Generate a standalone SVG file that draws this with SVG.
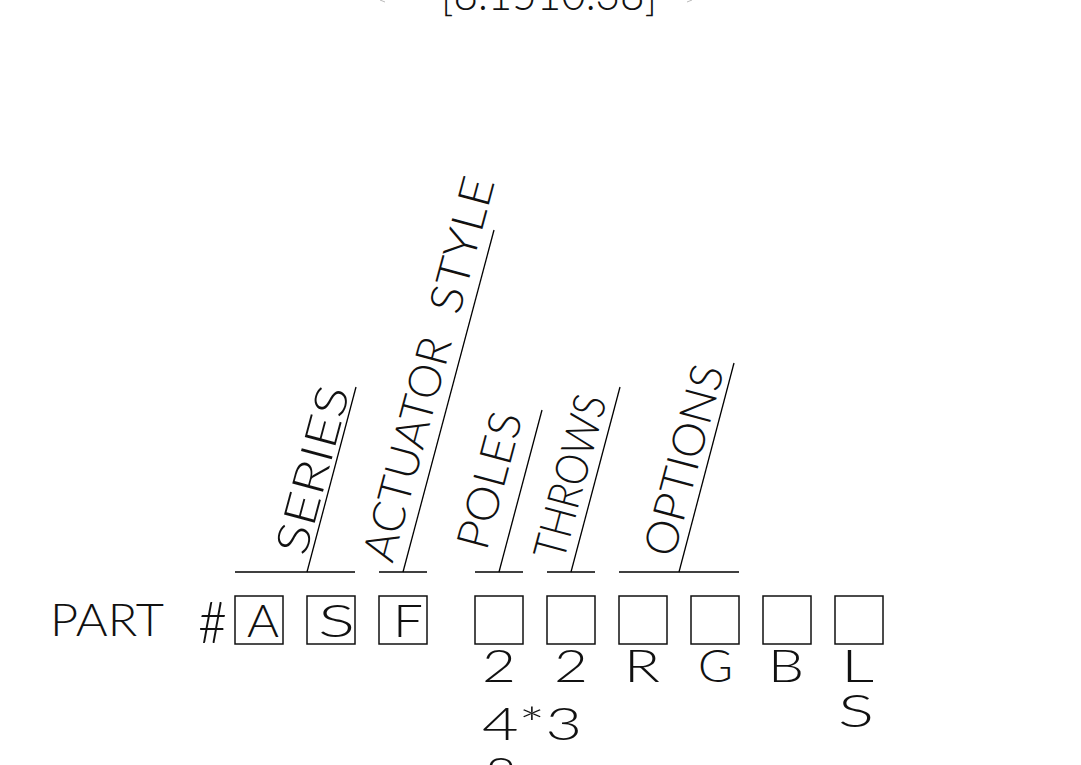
<svg xmlns="http://www.w3.org/2000/svg" width="1081" height="765" viewBox="0 0 1081 765">
<style>
  .t { font-family: "Lato", "Inter", "Liberation Sans", sans-serif; font-weight: 300; font-size: 45px; fill: #111; }
  .ln { stroke: #000; stroke-width: 1.3; fill: none; }
  .bx { stroke: #111; stroke-width: 1.5; fill: #fff; }
  .tick { stroke: #bbb; stroke-width: 1; }
</style>
<rect width="1081" height="765" fill="#fff"/>
<g id="dimension">
  <text class="t" x="441" y="10" textLength="216" lengthAdjust="spacingAndGlyphs">[8.1510.38]</text>
  <line class="tick" x1="380" y1="0" x2="385" y2="2"/>
  <line class="tick" x1="692" y1="0" x2="687" y2="2"/>
</g>
<g id="connectors">
  <line class="ln" x1="235" y1="572" x2="355" y2="572"/>
  <line class="ln" x1="379" y1="572" x2="427" y2="572"/>
  <line class="ln" x1="475" y1="572" x2="523" y2="572"/>
  <line class="ln" x1="547" y1="572" x2="595" y2="572"/>
  <line class="ln" x1="619" y1="572" x2="739" y2="572"/>
  <line class="ln" x1="307" y1="572" x2="356" y2="387"/>
  <line class="ln" x1="403" y1="572" x2="494" y2="230"/>
  <line class="ln" x1="499" y1="572" x2="542" y2="410"/>
  <line class="ln" x1="571" y1="572" x2="620" y2="387"/>
  <line class="ln" x1="679" y1="572" x2="734" y2="363"/>
</g>
<g id="label-series"><text class="t" transform="translate(305.5,557) rotate(-75)" textLength="172" lengthAdjust="spacingAndGlyphs">SERIES</text></g>
<g id="label-actuator">
  <text class="t" transform="translate(392.5,564) rotate(-75)" textLength="230" lengthAdjust="spacingAndGlyphs">ACTUATOR</text>
  <text class="t" transform="translate(459,316) rotate(-75)" textLength="139" lengthAdjust="spacingAndGlyphs">STYLE</text>
</g>
<g id="label-poles"><text class="t" transform="translate(486.5,552) rotate(-75)" textLength="140" lengthAdjust="spacingAndGlyphs">POLES</text></g>
<g id="label-throws"><text class="t" transform="translate(563.5,562) rotate(-75)" textLength="168" lengthAdjust="spacingAndGlyphs">THROWS</text></g>
<g id="label-options"><text class="t" transform="translate(673.5,559) rotate(-75)" textLength="196" lengthAdjust="spacingAndGlyphs">OPTIONS</text></g>
<g id="part-label">
  <text class="t" x="50" y="636" textLength="114" lengthAdjust="spacingAndGlyphs">PART</text>
  <text class="t" x="198" y="643" style="font-size:58px" textLength="29" lengthAdjust="spacingAndGlyphs">#</text>
</g>
<g id="box-1"><rect class="bx" x="235" y="596" width="48" height="48"/><text class="t" x="247" y="637" textLength="32" lengthAdjust="spacingAndGlyphs">A</text></g>
<g id="box-2"><rect class="bx" x="307" y="596" width="48" height="48"/><text class="t" x="318" y="637" textLength="37" lengthAdjust="spacingAndGlyphs">S</text></g>
<g id="box-3"><rect class="bx" x="379" y="596" width="48" height="48"/><text class="t" x="393" y="637" textLength="30" lengthAdjust="spacingAndGlyphs">F</text></g>
<g id="box-4"><rect class="bx" x="475" y="596" width="48" height="48"/></g>
<g id="box-5"><rect class="bx" x="547" y="596" width="48" height="48"/></g>
<g id="box-6"><rect class="bx" x="619" y="596" width="48" height="48"/></g>
<g id="box-7"><rect class="bx" x="691" y="596" width="48" height="48"/></g>
<g id="box-8"><rect class="bx" x="763" y="596" width="48" height="48"/></g>
<g id="box-9"><rect class="bx" x="835" y="596" width="48" height="48"/></g>
<g id="values">
  <text class="t" x="482" y="682" textLength="34" lengthAdjust="spacingAndGlyphs">2</text>
  <text class="t" x="554" y="682" textLength="34" lengthAdjust="spacingAndGlyphs">2</text>
  <text class="t" x="624" y="682" textLength="36" lengthAdjust="spacingAndGlyphs">R</text>
  <text class="t" x="698" y="682" textLength="35" lengthAdjust="spacingAndGlyphs">G</text>
  <text class="t" x="768" y="682" textLength="36" lengthAdjust="spacingAndGlyphs">B</text>
  <text class="t" x="841" y="682" textLength="33" lengthAdjust="spacingAndGlyphs">L</text>
  <text class="t" x="838" y="727" textLength="36" lengthAdjust="spacingAndGlyphs">S</text>
  <text class="t" x="482" y="740" textLength="100" lengthAdjust="spacingAndGlyphs">4*3</text>
  <text class="t" x="485" y="790" textLength="32" lengthAdjust="spacingAndGlyphs">8</text>
</g>
</svg>
